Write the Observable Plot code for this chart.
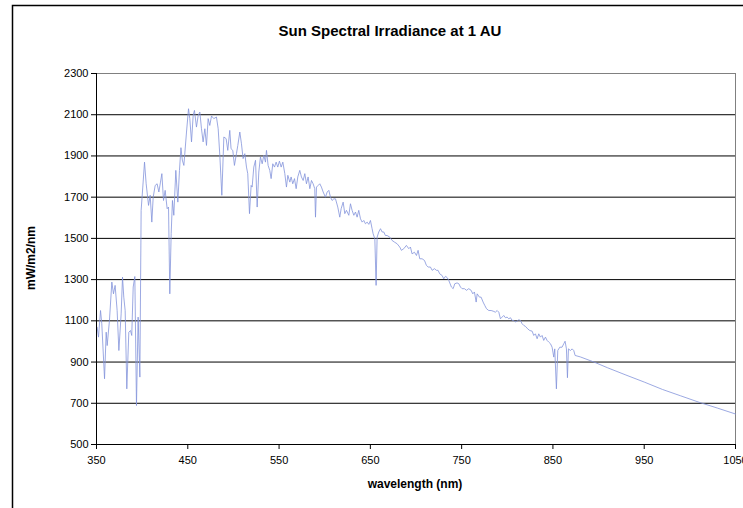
<!DOCTYPE html>
<html><head><meta charset="utf-8">
<script src="https://cdn.jsdelivr.net/npm/d3@7"></script>
<script src="https://cdn.jsdelivr.net/npm/@observablehq/plot@0.6"></script>
<style>body{margin:0;background:#fff;}</style>
</head><body><div id="chart"></div>
<script>
const wavelength = [
350.7,352.2,354.4,355.8,358.8,360.6,361.7,364.2,366.8,368.6,370.4,372.6,374.5,377.0,378.5,379.9,381.4,383.2,385.4,387.2,388.6,390.2,392.0,393.8,395.6,397.5,398.9,400.7,402.6,404.4,407.0,408.8,410.6,412.1,414.3,416.4,418.3,420.1,421.6,423.4,425.2,427.4,428.9,430.3,431.8,433.2,434.7,436.9,439.1,440.9,442.5,444.0,445.7,448.6,450.8,452.2,454.1,455.9,457.3,459.5,461.4,463.2,465.0,466.8,468.7,470.5,472.3,474.1,476.0,478.5,481.4,483.3,485.1,487.3,489.5,492.0,493.8,496.0,497.4,499.3,501.1,503.3,504.8,507.0,508.8,510.6,512.5,514.3,515.7,517.6,519.4,520.5,522.3,524.2,526.0,527.8,529.6,531.5,533.3,535.1,536.2,538.0,539.8,541.3,543.1,545.0,546.8,548.6,550.4,552.3,554.1,556.3,558.1,559.6,561.8,563.2,565.0,566.9,568.7,570.5,572.7,574.5,576.4,578.2,580.0,581.8,583.7,585.5,587.3,589.1,589.9,591.0,592.8,594.6,596.4,598.3,600.8,602.7,604.5,606.3,608.1,610.0,611.8,614.3,616.5,618.0,620.2,622.0,623.8,626.4,628.2,630.0,631.9,633.7,635.5,637.3,639.2,641.0,642.8,644.6,646.5,648.3,650.1,651.9,653.0,654.9,656.3,657.4,659.2,661.1,662.9,664.7,666.5,668.4,671.3,673.8,676.4,679.3,682.2,684.0,686.6,689.5,692.1,693.9,695.7,698.3,700.5,702.3,704.1,706.7,709.3,711.4,713.3,715.8,717.7,720.2,722.4,724.2,726.0,728.6,730.4,732.3,734.1,735.9,738.8,740.7,742.5,745.0,746.9,748.7,750.5,753.1,755.3,757.8,760.4,762.2,764.0,765.9,767.0,769.5,771.3,773.5,775.3,777.2,779.7,782.3,784.5,787.0,788.9,790.7,792.5,794.3,796.1,798.0,799.8,801.6,803.5,805.3,807.1,808.9,810.8,812.6,814.4,816.2,818.0,819.9,822.4,824.6,827.2,829.0,830.8,832.7,834.5,836.3,838.1,839.9,841.8,843.6,845.4,847.3,849.1,850.9,852.0,853.8,855.3,857.5,860.0,861.9,863.3,864.8,865.9,867.0,869.2,871.0,872.8,874.3,880,895,910,930,950,970,990,1010,1030,1050
];
const irradiance = [
1069,1021,1150,1086,819,1045,980,1102,1288,1231,1272,1150,956,1134,1312,1215,1150,770,1045,1053,1029,1264,1315,689,1118,827,1636,1749,1870,1765,1660,1709,1579,1700,1757,1765,1725,1773,1814,1684,1733,1644,1652,1231,1523,1684,1612,1830,1676,1830,1940,1880,1854,2016,2129,2081,1968,2097,2121,2040,2097,2113,2032,1968,2032,1951,2081,2048,2094,2081,2089,2032,1903,1709,1992,1984,1927,2024,1935,1927,1854,1911,1951,2016,1959,1887,1911,1846,1814,1620,1757,1749,1846,1879,1652,1822,1895,1862,1903,1870,1927,1854,1830,1790,1862,1846,1870,1846,1875,1846,1870,1814,1749,1806,1773,1798,1765,1790,1741,1798,1830,1798,1781,1814,1765,1798,1741,1781,1765,1741,1603,1749,1757,1765,1749,1725,1700,1725,1733,1700,1684,1692,1692,1652,1603,1644,1676,1620,1636,1612,1668,1636,1612,1628,1603,1636,1595,1579,1587,1571,1579,1568,1587,1547,1523,1498,1272,1506,1531,1547,1531,1531,1514,1514,1506,1490,1482,1474,1458,1442,1450,1466,1450,1458,1425,1433,1417,1442,1401,1401,1393,1369,1361,1361,1345,1353,1345,1345,1328,1320,1304,1316,1310,1296,1264,1256,1280,1284,1280,1264,1256,1256,1248,1256,1248,1231,1240,1191,1231,1215,1215,1191,1175,1159,1150,1150,1147,1142,1150,1142,1110,1118,1126,1115,1118,1110,1115,1102,1102,1094,1099,1105,1102,1086,1078,1073,1061,1053,1050,1029,1037,1013,1037,1021,1029,1005,1021,1005,997,989,972,924,964,770,956,972,972,989,1001,964,824,964,956,964,956,932,925,900,872,837,803,767,736,705,677,648
];
const xTicks = [350,450,550,650,750,850,950,1050];
const yTicks = [500,700,900,1100,1300,1500,1700,1900,2100,2300];
const gridValues = [700,900,1100,1300,1500,1700,1900,2100];

const data = wavelength.map((w, i) => ({w, v: irradiance[i]}));
const font = "'Liberation Sans', Arial, sans-serif";

const chart = Plot.plot({
  width: 743, height: 508,
  marginLeft: 96, marginRight: 8, marginTop: 73, marginBottom: 64,
  style: {fontFamily: font, fontSize: "11px", background: "white", color: "black"},
  x: {domain: [350, 1050], range: [96, 735], label: null},
  y: {domain: [500, 2300], range: [444, 73], label: null},
  marks: [
    Plot.ruleY(gridValues, {stroke: "black", strokeWidth: 1}),
    Plot.ruleY([2300], {stroke: "#808080", strokeWidth: 1}),
    Plot.ruleX([1050], {stroke: "#808080", strokeWidth: 1}),
    Plot.line(data, {x: "w", y: "v", stroke: "#8393da", strokeWidth: 0.8}),
    Plot.axisX({ticks: xTicks, tickFormat: d => String(d), tickSize: 5, tickPadding: 7, fontSize: 11, label: null}),
    Plot.axisY({ticks: yTicks, tickFormat: d => String(d), tickSize: 5, tickPadding: 3, fontSize: 11, label: null}),
    Plot.ruleX([350], {stroke: "black", strokeWidth: 1}),
    Plot.ruleY([500], {stroke: "black", strokeWidth: 1})
  ]
});

const svg = d3.select(chart);
svg.append("rect").attr("x", 12.5).attr("y", 5.5).attr("width", 800).attr("height", 600)
  .attr("fill", "none").attr("stroke", "black").attr("stroke-width", 1.5);
svg.append("text").attr("x", 390).attr("y", 36).attr("text-anchor", "middle")
  .attr("font-family", font).attr("font-size", 15).attr("font-weight", "bold").text("Sun Spectral Irradiance at 1 AU");
svg.append("text").attr("x", 415).attr("y", 488).attr("text-anchor", "middle")
  .attr("font-family", font).attr("font-size", 12).attr("font-weight", "bold").text("wavelength (nm)");
svg.append("text").attr("transform", "translate(35,258) rotate(-90)").attr("text-anchor", "middle")
  .attr("font-family", font).attr("font-size", 12).attr("font-weight", "bold").text("mW/m2/nm");

document.getElementById("chart").appendChild(chart);
</script>
</body></html>
